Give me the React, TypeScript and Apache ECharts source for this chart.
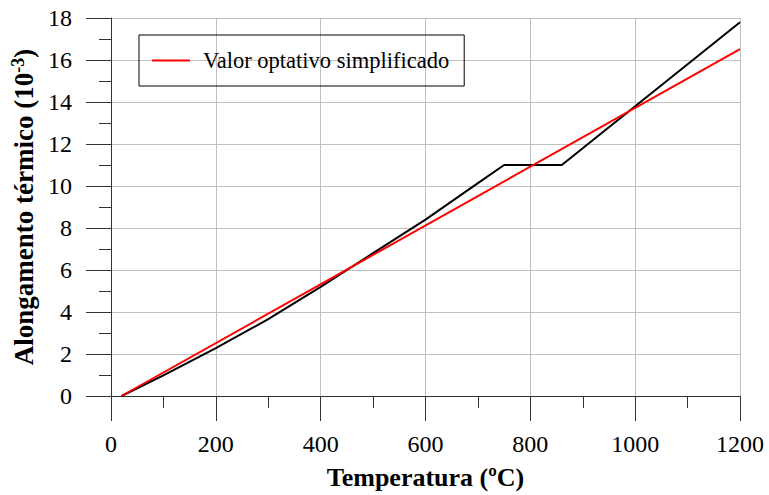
import React, { useEffect, useRef } from "react";
import * as echarts from "echarts";

const temps = [20, 100, 200, 300, 400, 500, 600, 700, 750, 860, 1000, 1100, 1200];
const elongation = [0, 0.98, 2.28, 3.66, 5.2, 6.8, 8.4, 10.14, 11.0, 11.0, 13.8, 15.8, 17.8];
const simplifiedTemps = [20, 1200];
const simplifiedValues = [0, 16.52];
const legendName = "Valor optativo simplificado";

const FONT = "Liberation Serif, Times New Roman, serif";

export default function App() {
  const ref = useRef<HTMLDivElement>(null);
  useEffect(() => {
    document.body.style.margin = "0";
    if (!ref.current) return;
    const chart = echarts.init(ref.current, undefined, { renderer: "svg" });
    chart.setOption({
      animation: false,
      backgroundColor: "#fff",
      textStyle: { fontFamily: FONT },
      grid: { left: 111, right: 29, top: 18, bottom: 97, containLabel: false },
      legend: {
        data: [{ name: legendName, icon: "rect" }],
        left: 139,
        top: 35,
        itemWidth: 38,
        itemHeight: 2,
        padding: [14, 15, 14, 13],
        borderColor: "#000",
        borderWidth: 1,
        textStyle: { fontFamily: FONT, fontSize: 22.5, color: "#000", padding: [0, 0, 0, 8] },
      },
      xAxis: {
        type: "value",
        min: 0,
        max: 1200,
        interval: 200,
        name: "Temperatura (ºC)",
        nameLocation: "middle",
        nameGap: 68,
        nameTextStyle: { fontFamily: FONT, fontSize: 26, fontWeight: "bold", color: "#000" },
        axisLine: { show: true, lineStyle: { color: "#333", width: 1 } },
        axisTick: { show: true, length: 25, lineStyle: { color: "#333" } },
        minorTick: { show: true, splitNumber: 2, length: 12, lineStyle: { color: "#333" } },
        axisLabel: {
          fontFamily: FONT,
          fontSize: 24,
          color: "#000",
          margin: 36,
          formatter: (v: number) => String(v),
        },
        splitLine: { show: true, lineStyle: { color: "#c0c0c0", width: 1 } },
      },
      yAxis: {
        type: "value",
        min: 0,
        max: 18,
        interval: 2,
        name: "{t|Alongamento térmico (10}{s|-3}{t|)}",
        nameLocation: "middle",
        nameGap: 70,
        nameTextStyle: {
          rich: {
            t: { fontFamily: FONT, fontSize: 27, fontWeight: "bold", color: "#000" },
            s: { fontFamily: FONT, fontSize: 18, fontWeight: "bold", color: "#000", padding: [0, 0, 12, 0] },
          },
        },
        axisLine: { show: true, lineStyle: { color: "#333", width: 1 } },
        axisTick: { show: true, length: 25, lineStyle: { color: "#333" } },
        minorTick: { show: true, splitNumber: 2, length: 12, lineStyle: { color: "#333" } },
        axisLabel: { fontFamily: FONT, fontSize: 24, color: "#000", margin: 39 },
        splitLine: { show: true, lineStyle: { color: "#c0c0c0", width: 1 } },
      },
      series: [
        {
          name: "Elongation",
          type: "line",
          data: temps.map((t, i) => [t, elongation[i]]),
          showSymbol: false,
          lineStyle: { color: "#000", width: 2 },
          itemStyle: { color: "#000" },
          z: 2,
        },
        {
          name: legendName,
          type: "line",
          data: simplifiedTemps.map((t, i) => [t, simplifiedValues[i]]),
          showSymbol: false,
          lineStyle: { color: "#ff0000", width: 2 },
          itemStyle: { color: "#ff0000" },
          z: 3,
        },
      ],
    });
    return () => chart.dispose();
  }, []);
  return <div ref={ref} style={{ width: 769, height: 495 }} />;
}
